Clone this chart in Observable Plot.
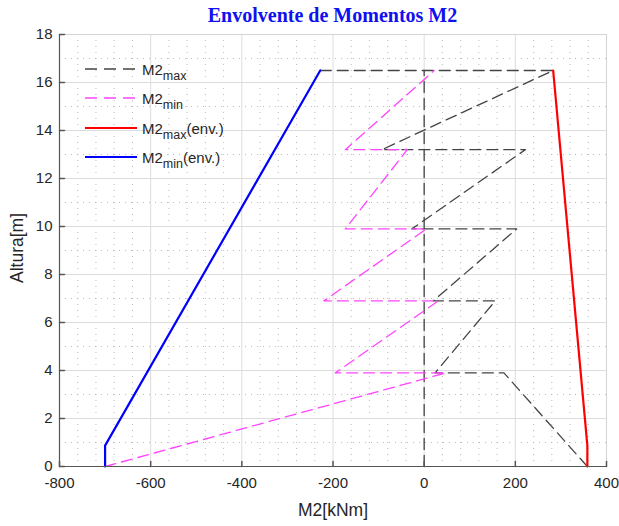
<!DOCTYPE html>
<html><head><meta charset="utf-8">
<script src="https://cdn.jsdelivr.net/npm/d3@7"></script>
<script src="https://cdn.jsdelivr.net/npm/@observablehq/plot@0.6"></script>
<style>
body{margin:0;background:#fff;font-family:"Liberation Sans",Arial,sans-serif;}
#wrap{position:relative;width:619px;height:526px;overflow:hidden;}
#title{height:30px;line-height:30px;padding-left:46px;text-align:center;font-family:"Liberation Serif","Times New Roman",serif;font-weight:bold;font-size:20px;color:#1010f0;}
#chart svg{overflow:visible;}
.lab{position:absolute;color:#262626;font-size:17.5px;white-space:nowrap;}
.leg{position:absolute;left:85px;height:20px;display:flex;align-items:center;color:#262626;font-size:15px;white-space:nowrap;}
.leg svg{margin-right:5px;}
.leg sub{font-size:12.5px;vertical-align:-5px;line-height:0;}
</style></head><body>
<div id="wrap">
<div id="title">Envolvente de Momentos M2</div>
<div id="chart"></div>
</div>
<script>
// Data
const alturas   = [0, 3.9, 6.9, 9.9, 13.2, 16.5];   // floor levels [m]
const m2maxBase = [358, 24, 20, -27, -93];          // M2max at bottom of each storey
const m2maxTopo = [175, 156, 203, 222, 283];        // M2max at top of each storey
const m2minBase = [-700, -195, -220, -173, -173];   // M2min at bottom of each storey
const m2minTopo = [48, 31, 5, -37, 22];             // M2min at top of each storey
const envY      = [0, 0.87, 16.5];
const envMaxX   = [358, 358, 283];
const envMinX   = [-700, -700, -228];
const cimaX     = [-228, 283];   // dashed line at the roof level
const ejeX      = [0, 0];        // dashed line at M2 = 0
const ejeY      = [0, 16.5];
const xTicks = [-800, -600, -400, -200, 0, 200, 400];
const yTicks = [0, 2, 4, 6, 8, 10, 12, 14, 16, 18];
const xMinor = d3.range(-800, 401, 40).filter(v => v % 200 !== 0);
const yMinor = d3.range(1, 18, 2);

function storeyLine(base, topo) {
  const pts = [];
  base.forEach((b, i) => {
    pts.push({x: b, y: alturas[i]});
    pts.push({x: topo[i], y: alturas[i + 1]});
  });
  return pts;
}
const maxPts = storeyLine(m2maxBase, m2maxTopo);
const minPts = storeyLine(m2minBase, m2minTopo);
const envMax = envY.map((y, i) => ({x: envMaxX[i], y}));
const envMin = envY.map((y, i) => ({x: envMinX[i], y}));
const cima = cimaX.map(x => ({x, y: alturas[alturas.length - 1]}));
const eje = ejeY.map((y, i) => ({x: ejeX[i], y}));

const tickShape = {draw(ctx, l) { ctx.moveTo(0, 0); ctx.lineTo(0, -l); }};
const axisCol = "#262626";
const blackDash = "#444";
const pink = "#ff44ff";
const fmt = d => String(d);

const chart = Plot.plot({
  width: 619, height: 496,
  marginLeft: 59, marginRight: 13, marginTop: 4, marginBottom: 60,
  style: {fontFamily: '"Liberation Sans", Arial, sans-serif', fontSize: "15px", color: axisCol, background: "#fff", overflow: "visible"},
  x: {domain: [-800, 400], ticks: xTicks, label: null},
  y: {domain: [0, 18], ticks: yTicks, label: null},
  marks: [
    Plot.gridX(xMinor, {stroke: "#aaa", strokeOpacity: 1, strokeDasharray: "1,5", strokeWidth: 0.8}),
    Plot.gridY(yMinor, {stroke: "#aaa", strokeOpacity: 1, strokeDasharray: "1,5", strokeWidth: 0.8}),
    Plot.gridX(xTicks, {stroke: "#dcdcdc", strokeOpacity: 1}),
    Plot.gridY(yTicks, {stroke: "#dcdcdc", strokeOpacity: 1}),
    Plot.frame({stroke: "#d4d4d4"}),
    Plot.line(eje, {x: "x", y: "y", stroke: blackDash, strokeWidth: 1.3, strokeDasharray: "11,6"}),
    Plot.line(maxPts, {x: "x", y: "y", stroke: blackDash, strokeWidth: 1.3, strokeDasharray: "11,6"}),
    Plot.line(cima, {x: "x", y: "y", stroke: blackDash, strokeWidth: 1.3, strokeDasharray: "11,6"}),
    Plot.line(minPts, {x: "x", y: "y", stroke: pink, strokeWidth: 1.3, strokeDasharray: "11,6"}),
    Plot.line(envMax, {x: "x", y: "y", stroke: "#ff0000", strokeWidth: 2.2}),
    Plot.line(envMin, {x: "x", y: "y", stroke: "#0000ff", strokeWidth: 2.2}),
    Plot.ruleX([-800], {stroke: "#555", strokeWidth: 1.2}),
    Plot.ruleY([0], {stroke: "#555", strokeWidth: 1.2}),
    Plot.vector(xTicks, {x: d => d, y: 0, length: 5, anchor: "start", rotate: 0, shape: tickShape, stroke: "#555"}),
    Plot.vector(yTicks, {x: -800, y: d => d, length: 5, anchor: "start", rotate: 90, shape: tickShape, stroke: "#555"}),
    Plot.axisX(xTicks, {tickSize: 0, tickPadding: 11, fontSize: 15, fill: axisCol, label: null, tickFormat: fmt}),
    Plot.axisY(yTicks, {tickSize: 0, tickPadding: 7, fontSize: 15, fill: axisCol, label: null, tickFormat: fmt})
  ]
});
document.getElementById("chart").appendChild(chart);

const wrap = document.getElementById("wrap");
function addLab(text, css) {
  const d = document.createElement("div");
  d.className = "lab"; d.textContent = text; Object.assign(d.style, css); wrap.appendChild(d);
}
addLab("M2[kNm]", {left: "333px", top: "510px", transform: "translate(-50%,-50%)"});
addLab("Altura[m]", {left: "17px", top: "248px", transform: "translate(-50%,-50%) rotate(-90deg)"});

const legendItems = [
  {name: "M2", sub: "max", extra: "", color: blackDash, w: 1.3, dash: "12,7"},
  {name: "M2", sub: "min", extra: "", color: pink, w: 1.3, dash: "12,7"},
  {name: "M2", sub: "max", extra: "(env.)", color: "#ff0000", w: 2.2, dash: null},
  {name: "M2", sub: "min", extra: "(env.)", color: "#0000ff", w: 2.2, dash: null}
];
const legY = [69, 98, 128, 157];
legendItems.forEach((it, i) => {
  const d = document.createElement("div");
  d.className = "leg";
  d.style.top = (legY[i] - 10) + "px";
  d.innerHTML = `<svg width="52" height="10"><line x1="0" y1="5" x2="52" y2="5" stroke="${it.color}" stroke-width="${it.w}" ${it.dash ? `stroke-dasharray="${it.dash}"` : ""}/></svg><span>${it.name}<sub>${it.sub}</sub>${it.extra}</span>`;
  wrap.appendChild(d);
});
</script>
</body></html>
